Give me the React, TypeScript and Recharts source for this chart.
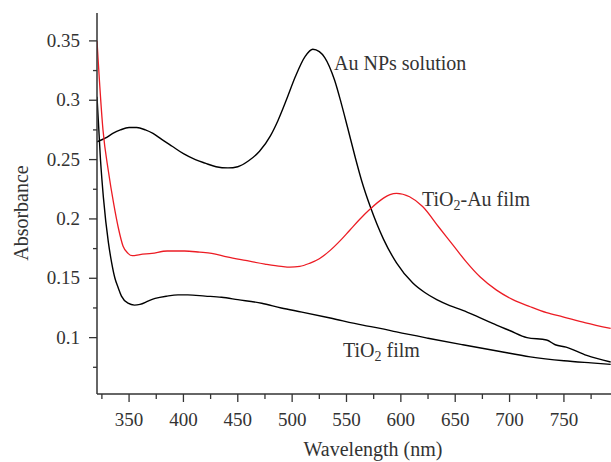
import { LineChart, Line, XAxis, YAxis } from "recharts";

// Au NPs solution (black, upper)
const auWavelength = [320.5, 328, 335, 342, 350, 357, 365, 372, 380, 390, 400, 411, 420, 430, 441, 450, 460, 470, 480, 487, 495, 503, 512, 519, 525, 530, 539, 545, 551, 558, 564, 572, 584, 596, 611, 622, 633, 645, 657, 672, 688, 700, 716, 734, 742, 752, 771, 793];
const auAbsorbance = [0.265, 0.268, 0.272, 0.275, 0.277, 0.277, 0.275, 0.272, 0.267, 0.261, 0.255, 0.25, 0.247, 0.244, 0.243, 0.244, 0.249, 0.257, 0.27, 0.283, 0.301, 0.32, 0.337, 0.343, 0.341, 0.336, 0.317, 0.298, 0.277, 0.252, 0.232, 0.21, 0.183, 0.163, 0.146, 0.138, 0.132, 0.127, 0.123, 0.117, 0.1105, 0.106, 0.1, 0.098, 0.094, 0.092, 0.085, 0.0795];

// TiO2-Au film (red)
const tioAuWavelength = [320.5, 326, 331, 336, 340, 344.5, 349, 353, 360, 371, 385, 401, 415, 426, 440, 457, 475, 490, 498, 507, 516, 525, 535, 544, 553, 562, 572, 584, 590, 596, 608, 620, 635, 648, 660, 673, 688, 703, 719, 734, 749, 770, 793];
const tioAuAbsorbance = [0.35, 0.275, 0.24, 0.212, 0.193, 0.177, 0.171, 0.169, 0.17, 0.171, 0.173, 0.173, 0.172, 0.171, 0.168, 0.165, 0.162, 0.16, 0.1594, 0.16, 0.1626, 0.1665, 0.1735, 0.1815, 0.1905, 0.1995, 0.2085, 0.2175, 0.2205, 0.2216, 0.2187, 0.2105, 0.193, 0.178, 0.164, 0.151, 0.14, 0.132, 0.126, 0.121, 0.1175, 0.1125, 0.1078];

// TiO2 film (black, lower)
const tioWavelength = [320.5, 323.7, 326.4, 331, 334, 337, 340, 343, 349, 355, 360, 368, 374, 385, 395, 404, 420, 435, 450, 472, 490, 509, 535, 565, 581, 596, 625, 657, 690, 719, 750, 775, 793];
const tioAbsorbance = [0.303, 0.25, 0.218, 0.18, 0.163, 0.15, 0.142, 0.135, 0.129, 0.1274, 0.128, 0.131, 0.133, 0.135, 0.136, 0.136, 0.135, 0.134, 0.132, 0.129, 0.125, 0.1215, 0.1165, 0.1105, 0.1078, 0.1048, 0.0995, 0.094, 0.0885, 0.0838, 0.0805, 0.0787, 0.0775];

const xMajor = [350, 400, 450, 500, 550, 600, 650, 700, 750];
const xMinor = [325, 375, 425, 475, 525, 575, 625, 675, 725, 775];
const yMajor = [0.1, 0.15, 0.2, 0.25, 0.3, 0.35];
const yMinor = [0.075, 0.125, 0.175, 0.225, 0.275, 0.325];

const toPoints = (xs: number[], ys: number[]) => xs.map((wl, i) => ({ wl, abs: ys[i] }));

const FONT = "Liberation Serif";
const INK = "#333";

function XTick({ x, y, payload }: any) {
  const major = xMajor.includes(payload.value);
  return (
    <g>
      <line x1={x} x2={x} y1={y} y2={y + (major ? 8 : 5)} stroke={INK} strokeWidth={1.3} />
      {major && (
        <text x={x} y={y + 32} textAnchor="middle" style={{ fontFamily: FONT }} fontSize={19} fill={INK}>
          {payload.value}
        </text>
      )}
    </g>
  );
}

function YTick({ x, y, payload }: any) {
  const major = yMajor.some((v) => Math.abs(v - payload.value) < 1e-6);
  return (
    <g>
      <line x1={x - (major ? 8 : 4)} x2={x} y1={y} y2={y} stroke={INK} strokeWidth={1.3} />
      {major && (
        <text x={x - 17} y={y + 6} textAnchor="end" style={{ fontFamily: FONT }} fontSize={19} fill={INK}>
          {String(payload.value)}
        </text>
      )}
    </g>
  );
}

export default function App() {
  const ticksX = [...xMajor, ...xMinor].sort((a, b) => a - b);
  const ticksY = [...yMajor, ...yMinor].sort((a, b) => a - b);
  return (
    <div style={{ position: "absolute", left: 0, top: 0, width: 611, height: 462, background: "#fff" }}>
      <LineChart width={611} height={462} margin={{ top: 13, right: 0, bottom: 0, left: 0 }}>
        <XAxis
          type="number"
          dataKey="wl"
          domain={[320.5, 793.3]}
          allowDataOverflow
          ticks={ticksX}
          interval={0}
          height={68}
          tickSize={0}
          tickMargin={0}
          tickLine={false}
          tick={<XTick />}
          axisLine={{ stroke: INK, strokeWidth: 1.5 }}
        />
        <YAxis
          type="number"
          dataKey="abs"
          domain={[0.0525, 0.3735]}
          allowDataOverflow
          ticks={ticksY}
          interval={0}
          width={97}
          tickSize={0}
          tickMargin={0}
          tickLine={false}
          tick={<YTick />}
          axisLine={{ stroke: INK, strokeWidth: 1.5 }}
        />
        <Line data={toPoints(tioWavelength, tioAbsorbance)} dataKey="abs" type="monotone" stroke="#000" strokeWidth={1.4} dot={false} isAnimationActive={false} />
        <Line data={toPoints(auWavelength, auAbsorbance)} dataKey="abs" type="monotone" stroke="#000" strokeWidth={1.4} dot={false} isAnimationActive={false} />
        <Line data={toPoints(tioAuWavelength, tioAuAbsorbance)} dataKey="abs" type="monotone" stroke="#ec1c24" strokeWidth={1.3} dot={false} isAnimationActive={false} />
      </LineChart>
      <svg width={611} height={462} style={{ position: "absolute", left: 0, top: 0, pointerEvents: "none" }}>
        <g style={{ fontFamily: FONT }} fontSize={20} fill={INK}>
          <text x={334} y={70}>Au NPs solution</text>
          <text x={422} y={206}>
            TiO<tspan fontSize={14} dy={4}>2</tspan>
            <tspan dy={-4}>-Au film</tspan>
          </text>
          <text x={343} y={357}>
            TiO<tspan fontSize={14} dy={4}>2</tspan>
            <tspan dy={-4}> film</tspan>
          </text>
          <text x={373} y={456} textAnchor="middle">Wavelength (nm)</text>
          <text x={28} y={213} textAnchor="middle" transform="rotate(-90 28 213)">Absorbance</text>
        </g>
      </svg>
    </div>
  );
}
